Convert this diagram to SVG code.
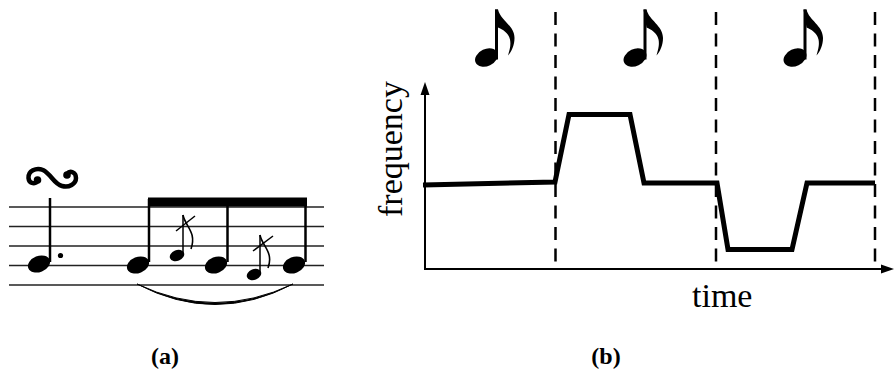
<svg xmlns="http://www.w3.org/2000/svg" width="894" height="372" viewBox="0 0 894 372">
<style>
.staff{stroke:#222;stroke-width:1.5;fill:none}
.stem{stroke:#000;stroke-width:2.5;fill:none}
.gstem{stroke:#000;stroke-width:1.5;fill:none}
.dash{stroke:#000;stroke-width:2.5;stroke-dasharray:13 8.5;fill:none}
.axis{stroke:#000;stroke-width:2;fill:none}
.curve{stroke:#000;stroke-width:5;fill:none;stroke-linejoin:miter}
.lbl{font-family:"Liberation Serif","Times New Roman",serif;font-size:34px;fill:#000}
.cap{font-family:"Liberation Serif","Times New Roman",serif;font-size:24px;font-weight:bold;fill:#000;text-anchor:middle}
</style>
<defs>
<g id="eighth">
<ellipse cx="0" cy="0" rx="12" ry="8.5" transform="rotate(-25)" fill="#000"/>
<line x1="10" y1="2" x2="10" y2="-48" stroke="#000" stroke-width="3"/>
<path d="M8.5,-48 L11.5,-48 C14,-37 28,-32 28,-19.5 C28,-12 25,-6 21.5,-2 C23.5,-9 24.5,-13 23.5,-18 C22,-25 16,-28 11.5,-30 Z" fill="#000"/>
</g>
<g id="head"><ellipse cx="0" cy="0" rx="11.5" ry="8" transform="rotate(-22)" fill="#000"/></g>
<g id="ghead"><ellipse cx="0" cy="0" rx="7.5" ry="5.3" transform="rotate(-22)" fill="#000"/></g>
</defs>

<g id="staff-a">
<line class="staff" x1="9" y1="207" x2="324" y2="207"/>
<line class="staff" x1="9" y1="226.5" x2="324" y2="226.5"/>
<line class="staff" x1="9" y1="246" x2="324" y2="246"/>
<line class="staff" x1="9" y1="265.5" x2="324" y2="265.5"/>
<line class="staff" x1="9" y1="285" x2="324" y2="285"/>
</g>

<g id="turn">
<path d="M38,180 C36,185 29,184 28.5,178 C28,171 36,167 43,170 C51,174 54,184 62,186 C69,188 76,184 76,178 C76,172 70,170 67,174" stroke="#000" stroke-width="4.5" fill="none"/>
<circle cx="37.5" cy="180" r="3.8" fill="#000"/>
<circle cx="67" cy="175" r="3.8" fill="#000"/>
</g>

<g id="note-dotted">
<use href="#head" x="39" y="264"/>
<line class="stem" x1="50" y1="198" x2="50" y2="262"/>
<circle cx="60.5" cy="255.5" r="2.6" fill="#000"/>
</g>

<g id="beamed-group">
<use href="#head" x="138" y="265"/>
<use href="#head" x="216" y="265"/>
<use href="#head" x="294" y="265"/>
<line class="stem" x1="149" y1="199" x2="149" y2="262"/>
<line class="stem" x1="227.5" y1="199" x2="227.5" y2="262"/>
<line class="stem" x1="305.5" y1="199" x2="305.5" y2="262"/>
<rect x="148" y="197.5" width="159" height="9" fill="#000"/>
</g>

<g id="grace-1">
<use href="#ghead" x="177" y="255.5"/>
<line class="gstem" x1="183" y1="253" x2="183" y2="215"/>
<path d="M183,215 C185,226 197,232 191,249" stroke="#000" stroke-width="1.6" fill="none"/>
<line x1="176" y1="231" x2="195" y2="216" stroke="#000" stroke-width="1.5"/>
</g>

<g id="grace-2">
<use href="#ghead" x="254" y="274.5"/>
<line class="gstem" x1="260" y1="272" x2="260" y2="235"/>
<path d="M260,235 C262,246 274,252 268,268" stroke="#000" stroke-width="1.6" fill="none"/>
<line x1="253" y1="251" x2="273" y2="236" stroke="#000" stroke-width="1.5"/>
</g>

<g id="slur">
<path d="M137,284 Q215,325 293,284 Q215,321 137,284 Z" fill="#000" stroke="#000" stroke-width="1"/>
</g>

<g id="connectors">
<line class="axis" x1="425" y1="270" x2="425" y2="90"/>
<polygon points="425,82 429.5,95 420.5,95" fill="#000"/>
<line class="axis" x1="424" y1="269" x2="884" y2="269"/>
<polygon points="894,269 881,264.5 881,273.5" fill="#000"/>
</g>

<g id="dividers">
<line class="dash" x1="555.5" y1="12" x2="555.5" y2="270"/>
<line class="dash" x1="716" y1="12" x2="716" y2="270"/>
<line class="dash" x1="875" y1="12" x2="875" y2="270"/>
</g>

<g id="pitch-curve">
<polyline class="curve" points="423,185 555,182 569,114.5 630,114.5 644,183 717,183 728,249.5 792,249.5 807,183 875,183"/>
</g>

<g id="notes-b">
<use href="#eighth" x="486.5" y="57.5"/>
<use href="#eighth" x="635" y="57.5"/>
<use href="#eighth" x="795" y="57.5"/>
</g>

<g id="labels">
<text class="lbl" x="692" y="307">time</text>
<text class="lbl" transform="translate(402,217) rotate(-90)">frequency</text>
<text class="cap" x="165" y="364">(a)</text>
<text class="cap" x="606" y="364">(b)</text>
</g>
</svg>
